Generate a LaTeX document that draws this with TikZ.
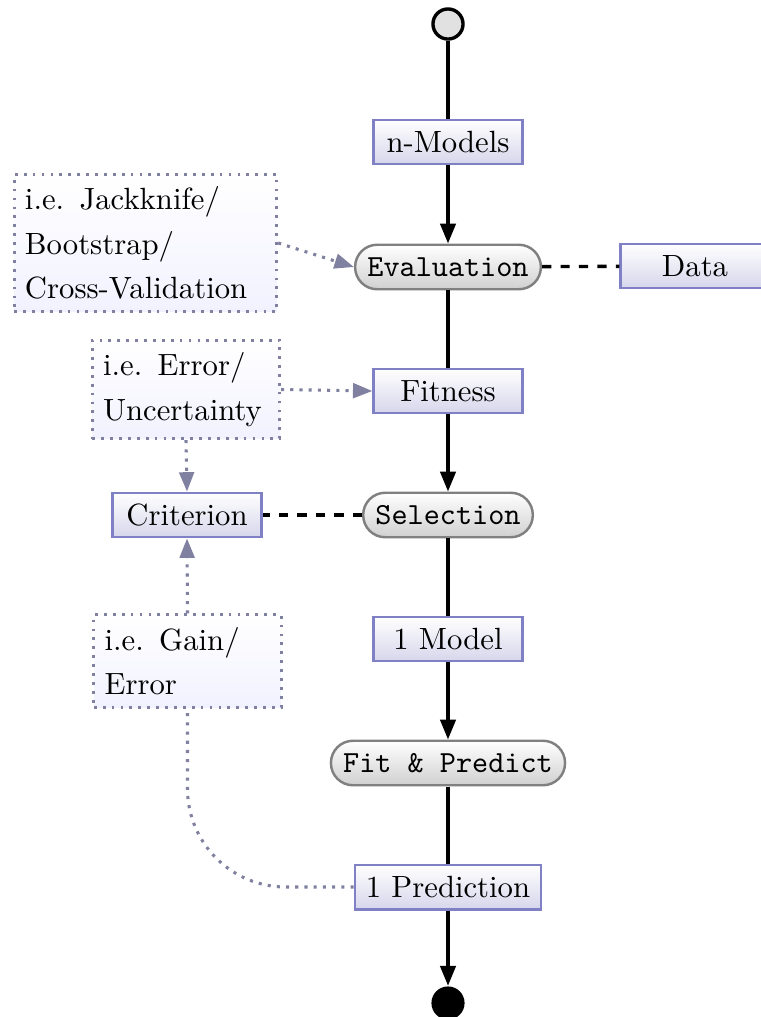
\documentclass[tikz,border=0pt]{standalone}
\usetikzlibrary{arrows.meta}
\definecolor{boxborder}{RGB}{128,128,196}
\definecolor{boxbot}{RGB}{214,214,236}
\definecolor{pillborder}{RGB}{128,128,128}
\definecolor{pillbot}{RGB}{208,208,208}
\definecolor{noteborder}{RGB}{128,128,160}
\definecolor{notebot}{RGB}{242,242,255}
\definecolor{startgray}{RGB}{225,225,225}
\tikzset{
 databox/.style={draw=boxborder, line width=0.8pt, top color=white, bottom color=boxbot, minimum width=48.5pt, minimum height=14.5pt, inner xsep=3.6pt, inner ysep=0pt},
 procbox/.style={draw=pillborder, line width=0.8pt, top color=white, bottom color=pillbot, rounded corners=7.2pt, minimum height=14.5pt, inner xsep=4pt, inner ysep=0pt, font=\ttfamily},
 notebox/.style={draw=noteborder, dotted, line width=0.9pt, top color=white, bottom color=notebot, align=left, inner xsep=3.5pt, inner ysep=4pt, execute at begin node={\setlength{\baselineskip}{14.5pt}}},
 flow/.style={line width=1.1pt, -{Triangle[length=6.5pt,width=5pt]}},
 plainline/.style={line width=1.1pt},
 link/.style={line width=1.1pt, dashed},
 noteline/.style={draw=noteborder, dotted, line width=1pt},
 notearrow/.style={noteline, -{Triangle[length=6.3pt,width=4.8pt]}, noteborder},
}
\begin{document}
\begin{tikzpicture}[x=0.3257pt,y=-0.3257pt]
\useasboundingbox (0,0) rectangle (761,1017);
\node[circle, draw, line width=1.1pt, fill=startgray, minimum size=9.8pt, inner sep=0pt] (start) at (448,24) {};
\node[databox] (nmodels) at (448,142) {n-Models};
\node[procbox] (eval) at (448,267) {Evaluation};
\node[databox] (data) at (695,266) {Data};
\node[databox] (fitness) at (448,391) {Fitness};
\node[procbox] (select) at (448,515) {Selection};
\node[databox] (crit) at (187,515) {Criterion};
\node[databox] (model) at (448,639) {1 Model};
\node[procbox] (fitpred) at (448,763) {Fit \& Predict};
\node[databox] (pred) at (448,887) {1 Prediction};
\node[circle, fill=black, minimum size=10.8pt, inner sep=0pt] (end) at (448,1003) {};
\node[notebox, text width=78.5pt] (jack) at (145.5,243) {i.e. Jackknife/\\Bootstrap/\\Cross-Validation};
\node[notebox, text width=54pt] (err) at (186,389.5) {i.e. Error/\\Uncertainty};
\node[notebox, text width=54pt] (gain) at (187.5,661) {i.e. Gain/\\Error};
\draw[plainline] (start) -- (nmodels);
\draw[flow] (nmodels) -- (eval);
\draw[plainline] (eval) -- (fitness);
\draw[flow] (fitness) -- (select);
\draw[plainline] (select) -- (model);
\draw[flow] (model) -- (fitpred);
\draw[plainline] (fitpred) -- (pred);
\draw[flow] (pred) -- (end);
\draw[link] (eval) -- (data);
\draw[link] (select) -- (crit);
\draw[notearrow] (jack.east) -- (eval.west);
\draw[notearrow] (err.east) -- (fitness.west);
\draw[notearrow] (err.south) -- (crit.north);
\draw[notearrow] (gain.north) -- (crit.south);
\draw[noteline, rounded corners=32pt] (pred.west) -| (gain.south);
\end{tikzpicture}
\end{document}
